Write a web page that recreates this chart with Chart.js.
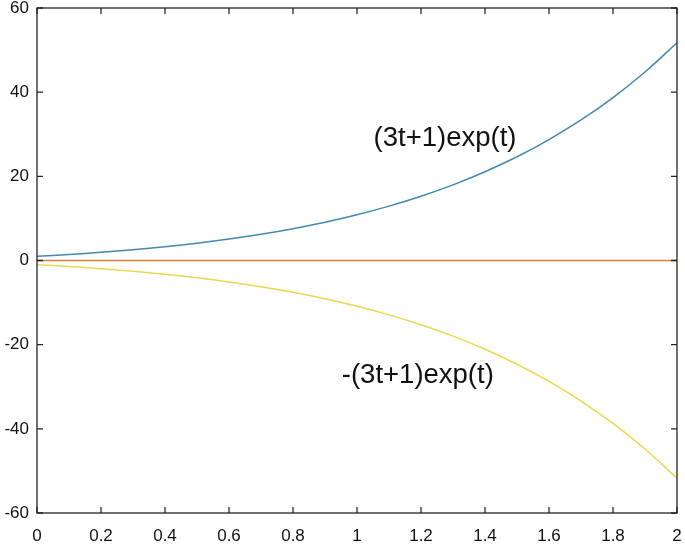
<!DOCTYPE html>
<html>
<head>
<meta charset="utf-8">
<script src="https://cdn.jsdelivr.net/npm/chart.js@4"></script>
<style>
  html, body { margin: 0; padding: 0; background: #fff; }
  #wrap { width: 685px; height: 544px; }
</style>
</head>
<body>
<div id="wrap"><canvas id="plot"></canvas></div>
<script>
const tValues = [0, 0.1, 0.2, 0.3, 0.4, 0.5, 0.6, 0.7, 0.8, 0.9, 1.0, 1.1, 1.2, 1.3, 1.4, 1.5, 1.6, 1.7, 1.8, 1.9, 2.0];
const posValues = [1.0, 1.44, 1.95, 2.56, 3.28, 4.12, 5.10, 6.24, 7.57, 9.10, 10.87, 12.92, 15.27, 17.98, 21.09, 24.65, 28.73, 33.39, 38.72, 44.80, 51.72];
const zeroValues = [0, 0, 0, 0, 0, 0, 0, 0, 0, 0, 0, 0, 0, 0, 0, 0, 0, 0, 0, 0, 0];
const negValues = [-1.0, -1.44, -1.95, -2.56, -3.28, -4.12, -5.10, -6.24, -7.57, -9.10, -10.87, -12.92, -15.27, -17.98, -21.09, -24.65, -28.73, -33.39, -38.72, -44.80, -51.72];
const curveLabels = ["(3t+1)exp(t)", "-(3t+1)exp(t)"];

const FONT = "Liberation Sans, Arial, sans-serif";

function toPoints(ys) {
  return tValues.map((t, i) => ({ x: t, y: ys[i] }));
}

// box round the axes, inward ticks on all four sides, curve labels
const boxPlugin = {
  id: "box",
  afterDatasetsDraw(chart) {
    const ctx = chart.ctx;
    const a = chart.chartArea;
    const xs = chart.scales.x;
    const ys = chart.scales.y;
    ctx.save();
    ctx.strokeStyle = "#262626";
    ctx.lineWidth = 1.3;
    ctx.strokeRect(a.left, a.top, a.right - a.left, a.bottom - a.top);
    const len = 6;
    ctx.beginPath();
    xs.ticks.forEach(tk => {
      const px = xs.getPixelForValue(tk.value);
      ctx.moveTo(px, a.bottom); ctx.lineTo(px, a.bottom - len);
      ctx.moveTo(px, a.top); ctx.lineTo(px, a.top + len);
    });
    ys.ticks.forEach(tk => {
      const py = ys.getPixelForValue(tk.value);
      ctx.moveTo(a.left, py); ctx.lineTo(a.left + len, py);
      ctx.moveTo(a.right, py); ctx.lineTo(a.right - len, py);
    });
    ctx.stroke();

    ctx.fillStyle = "#111";
    ctx.font = "27.5px " + FONT;
    ctx.textAlign = "center";
    ctx.textBaseline = "middle";
    ctx.fillText(curveLabels[0], xs.getPixelForValue(1.275), ys.getPixelForValue(29));
    ctx.fillText(curveLabels[1], xs.getPixelForValue(1.19), ys.getPixelForValue(-27.2));
    ctx.restore();
  }
};

new Chart(document.getElementById("plot").getContext("2d"), {
  type: "line",
  data: {
    datasets: [
      { data: toPoints(posValues), borderColor: "#4189b3", borderWidth: 1.5, pointRadius: 0, tension: 0.4 },
      { data: toPoints(zeroValues), borderColor: "#d9823b", borderWidth: 1.5, pointRadius: 0 },
      { data: toPoints(negValues), borderColor: "#ecd84e", borderWidth: 1.5, pointRadius: 0, tension: 0.4 },
    ],
  },
  options: {
    responsive: true,
    maintainAspectRatio: false,
    animation: false,
    layout: { padding: { left: 0, top: 8, right: 8, bottom: 0 } },
    plugins: { legend: { display: false }, tooltip: { enabled: false } },
    scales: {
      x: {
        type: "linear",
        min: 0,
        max: 2,
        grid: { display: false, drawTicks: false },
        border: { display: false },
        afterFit: s => { s.height = 31; s.paddingLeft = 0; s.paddingRight = 0; },
        ticks: {
          stepSize: 0.2,
          padding: 13,
          color: "#111",
          font: { family: FONT, size: 17 },
          maxRotation: 0,
          callback: v => String(Number(v.toFixed(1))),
        },
      },
      y: {
        min: -60,
        max: 60,
        grid: { display: false, drawTicks: false },
        border: { display: false },
        afterFit: s => { s.width = 37; s.paddingTop = 0; s.paddingBottom = 0; },
        ticks: {
          stepSize: 20,
          padding: 8,
          color: "#111",
          font: { family: FONT, size: 17 },
        },
      },
    },
  },
  plugins: [boxPlugin],
});
</script>
</body>
</html>
